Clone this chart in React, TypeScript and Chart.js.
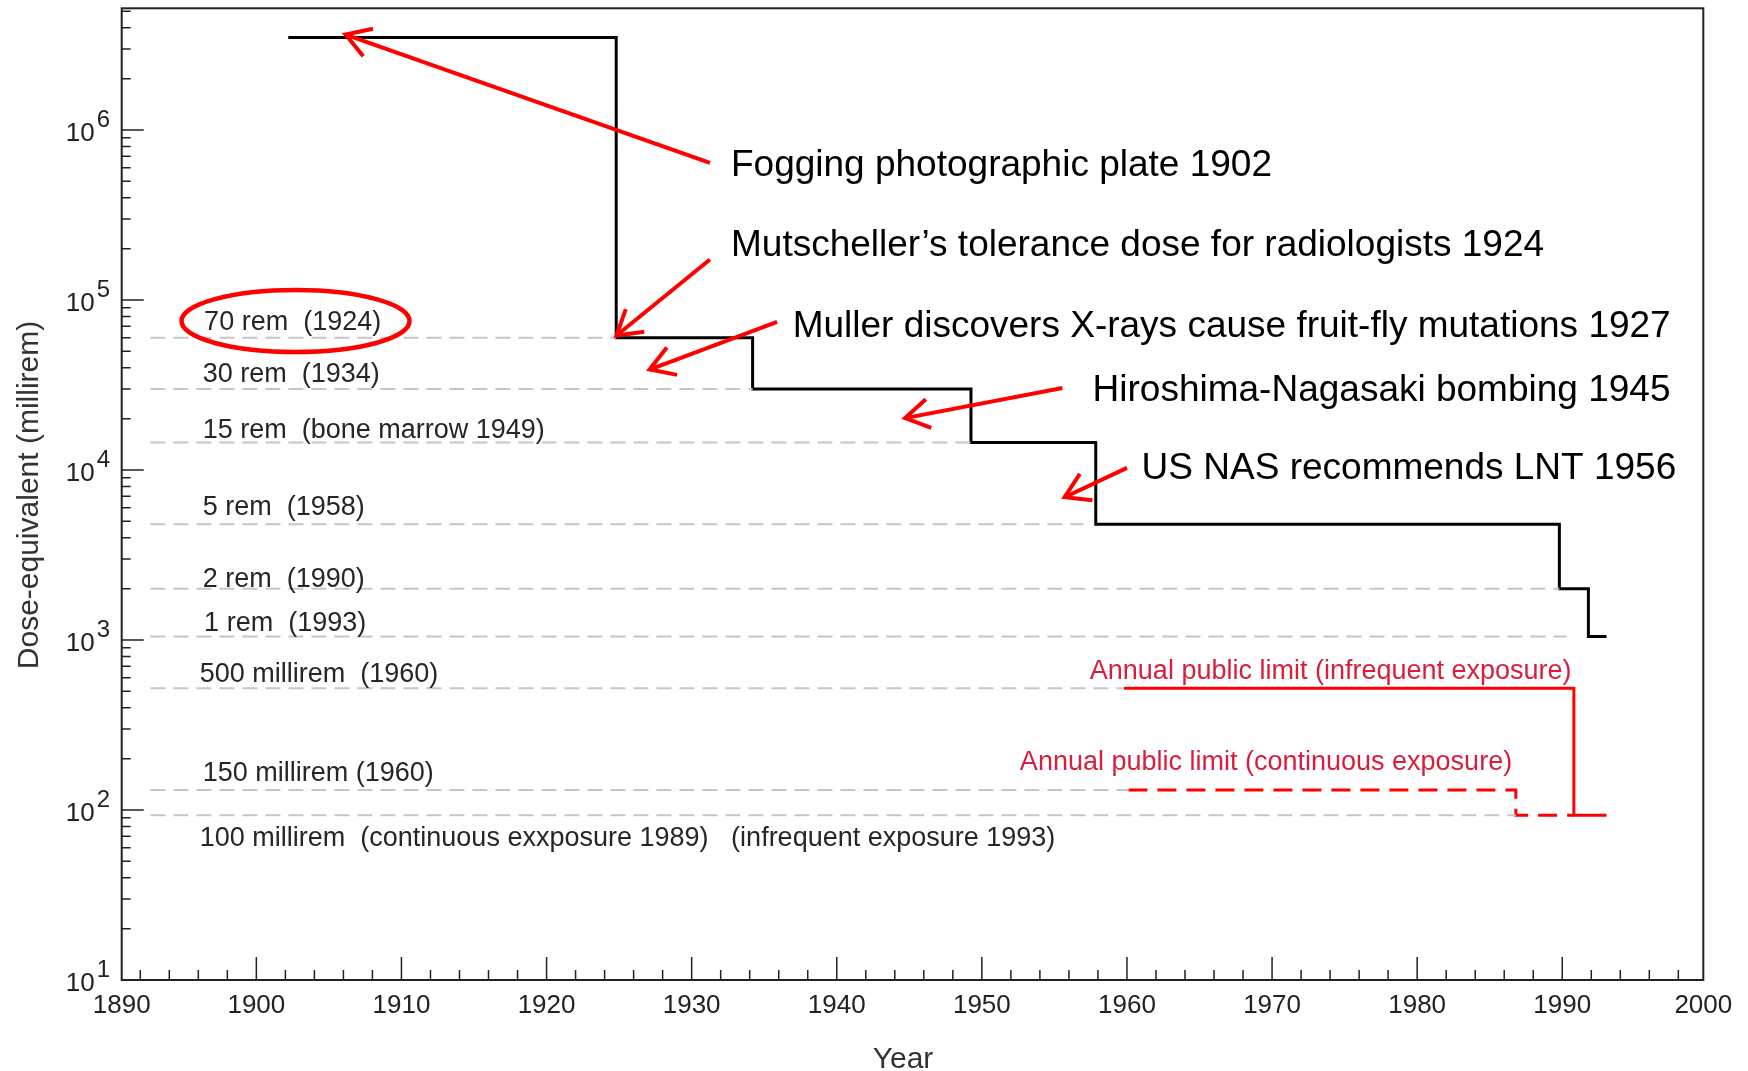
import React, { useEffect, useRef } from 'react';
import { Chart, registerables } from 'chart.js';

Chart.register(...registerables);

// ---------------- data ----------------
// occupational dose limit (black step line): year the value starts, dose (millirem)
const stepYears = [1902.2, 1924.8, 1934.2, 1949.25, 1957.85, 1989.8, 1991.8, 1993.05];
const stepDoses = [3500000, 60000, 30000, 14500, 4800, 2000, 1050, 1050];

// annual public limit, infrequent exposure (red solid)
const infrequentYears = [1959.8, 1990.8, 1993.05];
const infrequentDoses = [520, 93, 93];

// annual public limit, continuous exposure (red dashed)
const continuousYears = [1960.1, 1986.8, 1990.8];
const continuousDoses = [131, 93, 93];

// grey dashed reference levels
const refDoses = [60000, 30000, 14500, 4800, 2000, 1050, 520, 131, 93];
const refStartYear = 1892.7;
const refEndYears = [1924.8, 1934.2, 1949.25, 1957.0, 1989.8, 1990.3, 1959.8, 1960.1, 1986.8];
const refLabels = [
  '70 rem  (1924)',
  '30 rem  (1934)',
  '15 rem  (bone marrow 1949)',
  '5 rem  (1958)',
  '2 rem  (1990)',
  '1 rem  (1993)',
  '500 millirem  (1960)',
  '150 millirem (1960)',
  '100 millirem  (continuous exxposure 1989)',
];
const refExtraLabel = '(infrequent exposure 1993)';

const eventTexts = [
  'Fogging photographic plate 1902',
  'Mutscheller\u2019s tolerance dose for radiologists 1924',
  'Muller discovers X-rays cause fruit-fly mutations 1927',
  'Hiroshima-Nagasaki bombing 1945',
  'US NAS recommends LNT 1956',
];

const publicLabels = ['Annual public limit (infrequent exposure)', 'Annual public limit (continuous exposure)'];

const xTickYears = [1890, 1900, 1910, 1920, 1930, 1940, 1950, 1960, 1970, 1980, 1990, 2000];
const yTickExponents = [1, 2, 3, 4, 5, 6];

const xTitle = 'Year';
const yTitle = 'Dose-equivalent (millirem)';

// ---------------- annotation placement (data coordinates: [year, dose]) ----------------
const refLabelPos: [number, number][] = [
  [1896.4, 76300],
  [1896.3, 38200],
  [1896.3, 17660],
  [1896.3, 6225],
  [1896.3, 2378],
  [1896.4, 1294],
  [1896.1, 648],
  [1896.3, 169.6],
  [1896.1, 70.3],
];
const refExtraPos: [number, number] = [1932.72, 70.3];

const eventTextPos: [number, number][] = [
  [1932.71, 641000],
  [1932.71, 216000],
  [1936.96, 72900],
  [1957.63, 30400],
  [1961.01, 10560],
];
const arrowTail: [number, number][] = [
  [1931.26, 641000],
  [1931.26, 173000],
  [1935.89, 74300],
  [1955.55, 30400],
  [1960.0, 10300],
];
const arrowHead: [number, number][] = [
  [1906.15, 3640000],
  [1924.82, 61800],
  [1927.1, 39000],
  [1944.71, 20200],
  [1955.7, 6920],
];
const publicLabelPos: [number, number][] = [
  [1957.44, 684],
  [1952.62, 197],
];
const ellipseCenter: [number, number] = [1902.7, 75200];

const FONT = "'Liberation Sans', Arial, Helvetica, sans-serif";
const TEXT_DY = 3;

const toXY = (xs: number[], ys: number[]) => xs.map((x, i) => ({ x, y: ys[i] }));

const decorPlugin = {
  id: 'decor',
  afterDatasetsDraw(chart: any) {
    const ctx: CanvasRenderingContext2D = chart.ctx;
    const xs = chart.scales.x;
    const ys = chart.scales.y;
    const area = chart.chartArea;
    const px = (v: number) => xs.getPixelForValue(Math.min(Math.max(v, xs.min), xs.max));
    const py = (v: number) => ys.getPixelForValue(v);

    ctx.save();
    // frame
    ctx.strokeStyle = '#222';
    ctx.lineWidth = 2;
    ctx.strokeRect(area.left, area.top, area.right - area.left, area.bottom - area.top);

    // x ticks (inward)
    ctx.lineWidth = 1.5;
    ctx.beginPath();
    for (let yr = 1890; yr <= 2000; yr += 2) {
      if (yr <= xs.min || yr >= xs.max) continue;
      const x = xs.getPixelForValue(yr);
      const len = yr % 10 === 0 ? 23 : 10;
      ctx.moveTo(x, area.bottom);
      ctx.lineTo(x, area.bottom - len);
    }
    // y ticks (inward)
    for (let e = 1; e <= 7; e++) {
      for (let m = 1; m <= 9; m++) {
        const v = m * Math.pow(10, e);
        if (v <= ys.min || v >= ys.max) continue;
        const y = ys.getPixelForValue(v);
        const len = m === 1 ? 22 : 9;
        ctx.moveTo(area.left, y);
        ctx.lineTo(area.left + len, y);
      }
    }
    ctx.stroke();

    // x tick labels
    ctx.fillStyle = '#222';
    ctx.font = `26px ${FONT}`;
    ctx.textAlign = 'center';
    ctx.textBaseline = 'middle';
    xTickYears.forEach((yr) => {
      ctx.fillText(String(yr), px(yr), area.bottom + 26);
    });

    // y tick labels 10^n
    yTickExponents.forEach((e) => {
      const y = py(Math.pow(10, e));
      ctx.font = `26px ${FONT}`;
      ctx.textAlign = 'right';
      ctx.textBaseline = 'middle';
      ctx.fillText('10', area.left - 27, y + 4);
      ctx.font = `24px ${FONT}`;
      ctx.textAlign = 'left';
      ctx.fillText(String(e), area.left - 25, y - 10);
    });

    // axis titles
    ctx.fillStyle = '#333';
    ctx.font = `30px ${FONT}`;
    ctx.textAlign = 'center';
    ctx.textBaseline = 'middle';
    ctx.fillText(xTitle, 903, 1060);
    ctx.save();
    ctx.translate(30, 495);
    ctx.rotate(-Math.PI / 2);
    ctx.font = `30px ${FONT}`;
    ctx.fillText(yTitle, 0, 0);
    ctx.restore();

    // reference labels
    ctx.fillStyle = '#262626';
    ctx.font = `27px ${FONT}`;
    ctx.textAlign = 'left';
    ctx.textBaseline = 'middle';
    refLabels.forEach((t, i) => {
      ctx.fillText(t, px(refLabelPos[i][0]), py(refLabelPos[i][1]) + TEXT_DY);
    });
    ctx.fillText(refExtraLabel, px(refExtraPos[0]), py(refExtraPos[1]) + TEXT_DY);

    // public limit labels
    ctx.fillStyle = '#d81e3c';
    publicLabels.forEach((t, i) => {
      ctx.fillText(t, px(publicLabelPos[i][0]), py(publicLabelPos[i][1]) + TEXT_DY);
    });

    // event texts
    ctx.fillStyle = '#000';
    ctx.font = `37px ${FONT}`;
    eventTexts.forEach((t, i) => {
      ctx.fillText(t, px(eventTextPos[i][0]), py(eventTextPos[i][1]) + TEXT_DY);
    });

    // arrows
    ctx.strokeStyle = '#ff0000';
    ctx.lineWidth = 4;
    ctx.lineCap = 'butt';
    ctx.lineJoin = 'miter';
    arrowTail.forEach((tail, i) => {
      const x1 = px(tail[0]);
      const y1 = py(tail[1]);
      const x2 = px(arrowHead[i][0]);
      const y2 = py(arrowHead[i][1]);
      ctx.beginPath();
      ctx.moveTo(x1, y1);
      ctx.lineTo(x2, y2);
      ctx.stroke();
      const a = Math.atan2(y1 - y2, x1 - x2);
      const L = 28;
      const s = 0.55;
      ctx.beginPath();
      ctx.moveTo(x2 + L * Math.cos(a + s), y2 + L * Math.sin(a + s));
      ctx.lineTo(x2, y2);
      ctx.lineTo(x2 + L * Math.cos(a - s), y2 + L * Math.sin(a - s));
      ctx.stroke();
    });

    // ellipse round the 70 rem label
    ctx.lineWidth = 4.5;
    ctx.beginPath();
    ctx.ellipse(px(ellipseCenter[0]), py(ellipseCenter[1]), 114, 31, 0, 0, Math.PI * 2);
    ctx.stroke();

    ctx.restore();
  },
};

export default function App() {
  const canvasRef = useRef<HTMLCanvasElement | null>(null);

  useEffect(() => {
    document.body.style.margin = '0';
    const canvas = canvasRef.current;
    if (!canvas) return;

    const refSets = refDoses.map((d, i) => ({
      data: [
        { x: refStartYear, y: d },
        { x: refEndYears[i], y: d },
      ],
      borderColor: '#c6c6c6',
      borderWidth: 2,
      borderDash: [15, 8],
      pointRadius: 0,
      fill: false,
    }));

    const chart = new Chart(canvas, {
      type: 'line',
      data: {
        datasets: [
          ...refSets,
          {
            data: toXY(continuousYears, continuousDoses),
            borderColor: '#ff0000',
            borderWidth: 3,
            borderDash: [19, 10],
            stepped: 'before',
            pointRadius: 0,
            fill: false,
          },
          {
            data: toXY(infrequentYears, infrequentDoses),
            borderColor: '#ff0000',
            borderWidth: 3,
            stepped: 'before',
            pointRadius: 0,
            fill: false,
          },
          {
            data: toXY(stepYears, stepDoses),
            borderColor: '#000000',
            borderWidth: 3,
            stepped: 'before',
            pointRadius: 0,
            fill: false,
          },
        ] as any,
      },
      options: {
        responsive: false,
        animation: false,
        layout: { padding: { left: 121.7, right: 44.7, top: 8.3, bottom: 91 } },
        plugins: { legend: { display: false }, tooltip: { enabled: false } },
        scales: {
          x: { type: 'linear', min: 1890.72, max: 1999.72, display: false },
          y: { type: 'logarithmic', min: 10, max: 5200000, display: false },
        },
      } as any,
      plugins: [decorPlugin],
    });
    return () => chart.destroy();
  }, []);

  return (
    <div style={{ width: 1748, height: 1071, background: '#fff' }}>
      <canvas ref={canvasRef} width={1748} height={1071} style={{ display: 'block' }} />
    </div>
  );
}
